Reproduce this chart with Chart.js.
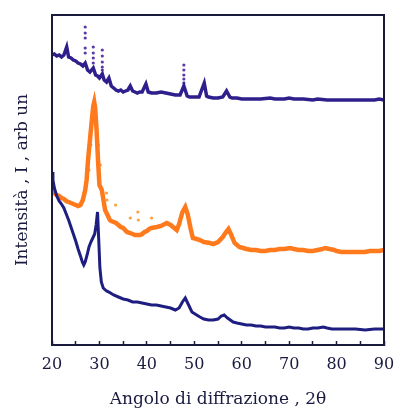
<!DOCTYPE html>
<html>
<head>
<meta charset="utf-8">
<script src="https://cdn.jsdelivr.net/npm/chart.js@4"></script>
<style>
html,body{margin:0;padding:0;background:#fff;}
canvas{display:block;}
</style>
</head>
<body>
<canvas id="c" width="398" height="410"></canvas>
<script>
// 2-theta angles and intensities (arbitrary units)
const topX = [20.0,20.5,21.0,21.5,22.0,22.5,23.1,23.5,24.0,24.5,25.0,25.5,26.0,26.5,27.0,27.5,28.0,28.7,29.2,29.6,30.0,30.6,31.0,31.5,32.0,32.5,33.0,33.5,34.0,34.5,35.0,35.5,36.0,36.5,37.0,37.5,38.0,38.5,39.0,39.8,40.3,41,42,43,44,45,46,47,47.8,48.5,49,50,51,52.1,52.6,53,54,55,56,56.8,57.5,58,59,60,62,64,66,67,69,70,71,73,75,76,78,80,82,84,86,88,89,90];
const topY = [290,291,289,290,288,290,298,288,287,285,284,282,281,279,282,275,273,277,270,269,267,271,265,263,267,259,257,255,254,255,253,254,255,259,254,253,252,253,253,261,253,252,252,253,252,251,250,250,259,249,248,248,248,262,249,248,247,247,248,254,248,247,247,246,246,246,247,246,246,247,246,246,245,246,245,245,245,245,245,245,246,245];
const topSpikeX = [27.0,27.0,27.0,27.0,27.0,28.7,28.7,28.7,28.7,30.6,30.6,30.6,30.6,30.6,47.8,47.8,47.8,47.8,47.8];
const topSpikeY = [318,312,307,297,292,298,292,287,282,295,289,283,278,275,280,275,270,266,262];

const midX = [20.0,20.3,20.7,21,21.5,22,22.5,23,23.5,24,24.5,25,25.5,26,26.5,27,27.3,27.6,28.0,28.4,28.7,28.9,29.1,29.4,29.7,30.0,30.5,31.2,31.5,32.2,32.5,33,33.5,34,34.5,35,35.8,36.5,37,37.5,38,38.6,39,39.5,40,40.5,41,42.1,43,44.2,45,46.3,46.8,47.5,48.1,48.6,49.2,49.7,50.5,51.2,52,53.3,54,55,56,56.7,57.2,57.7,58.5,59.5,60.3,61,62,63,64,65,66,67,68,69,70.2,71,72,73,74,75,76,77,77.6,78.5,79.5,80,81,82,83,84,85,86,87,88,89,90];
const midY = [157,153,151,150,149,147,146,144,143,142,141,140,139,140,145,155,165,185,205,225,239,243,237,215,185,160,155,135,132,125,124,123,122,120,118,117,113,112,111,110,110,110,111,113,114,116,117,118,119,122,120,115,121,133,138,131,117,107,106,105,103,102,101,103,108,113,116,111,102,98,97,96,95,95,94,94,95,95,96,96,97,96,95,95,94,94,95,96,97,96,95,94,93,93,93,93,93,93,94,94,94,95];
const midDotX = [27.8,28.2,29.8,30.2,31.5,31.6,33.4,36.5,38.1,38.2,41.0];
const midDotY = [175,200,200,180,152,145,140,127,133,125,127];

const botX = [20.0,20.2,20.5,21,21.5,22,22.5,23,23.5,24,24.5,25,25.5,26,26.4,26.7,27.0,27.4,27.8,28.2,28.6,29.0,29.3,29.6,29.9,30.1,30.4,30.8,31.5,32,33,34,35,36,37,38,39,40,41,42,43,44,45,46,46.8,47.5,48.1,48.7,49.5,50.5,51.2,52,53,54,55,55.7,56.3,57,58.2,59,60,61,62,63,64,65,66,67,68,69,70,71,72,73,74,75,76,77.2,78,79,80,82,84,86,88,90];
const botY = [173,165,157,149,144,141,137,131,125,118,111,104,96,89,83,80,83,90,98,103,107,111,120,133,100,77,63,57,54,53,50,48,46,45,43,43,42,41,40,40,39,38,37,35,37,43,47,41,33,30,28,26,25,25,26,29,30,27,23,22,21,20,20,19,19,18,18,18,17,17,18,17,17,16,16,17,17,18,17,16,16,16,16,15,16,16];

const xTicksMajor = [20,30,40,50,60,70,80,90];

const toPts = (xs, ys) => xs.map((x, i) => ({x: x, y: ys[i]}));

const TOP_C = '#2e1f8c', MID_C = '#ff7a1c', BOT_C = '#1e1e80', AX_C = '#1a1a3c';
const FONT = 'DejaVu Serif';

const framePlugin = {
  id: 'frame',
  afterDatasetsDraw(chart) {
    const a = chart.chartArea, ctx = chart.ctx;
    ctx.save();
    ctx.strokeStyle = AX_C;
    ctx.lineWidth = 2;
    ctx.strokeRect(a.left, a.top, a.right - a.left, a.bottom - a.top);
    ctx.restore();
  }
};

new Chart(document.getElementById('c'), {
  type: 'line',
  data: {
    datasets: [
      {data: toPts(botX, botY), borderColor: BOT_C, borderWidth: 3, pointRadius: 0, tension: 0},
      {data: toPts(midX, midY), borderColor: MID_C, borderWidth: 4.5, pointRadius: 0, tension: 0},
      {data: toPts(midDotX, midDotY), showLine: false, pointRadius: 1.6, pointBackgroundColor: '#ffa040', pointBorderWidth: 0},
      {data: toPts(topX, topY), borderColor: TOP_C, borderWidth: 3.5, pointRadius: 0, tension: 0},
      {data: toPts(topSpikeX, topSpikeY), showLine: false, pointRadius: 1.6, pointBackgroundColor: '#5a3aa8', pointBorderWidth: 0}
    ]
  },
  options: {
    responsive: false,
    animation: false,
    events: [],
    layout: {padding: {left: 0, top: 15, right: 14, bottom: 0}},
    plugins: {legend: {display: false}, tooltip: {enabled: false}},
    scales: {
      x: {
        type: 'linear', min: 20, max: 90,
        afterFit: s => { s.height = 65; s.paddingLeft = 0; s.paddingRight = 0; },
        ticks: {
          stepSize: 5, autoSkip: false, maxRotation: 0, padding: 14,
          color: '#1a1a40',
          font: {family: FONT, size: 16},
          callback: v => xTicksMajor.includes(v) ? String(v) : ''
        },
        grid: {drawOnChartArea: false, drawTicks: true, tickLength: -4, color: AX_C, tickWidth: 1.5},
        border: {display: true, color: AX_C, width: 2},
        title: {display: true, text: 'Angolo di diffrazione , 2θ', color: '#1a1a40',
          font: {family: FONT, size: 17}, padding: {top: 0, bottom: 0}}
      },
      y: {
        type: 'linear', min: 0, max: 330,
        afterFit: s => { s.width = 52; s.paddingTop = 0; s.paddingBottom = 0; },
        ticks: {display: false},
        grid: {display: false},
        border: {display: true, color: AX_C, width: 2},
        title: {display: true, text: 'Intensità , I , arb un', color: '#1a1a40',
          font: {family: FONT, size: 17}, padding: {top: 12, bottom: 0}}
      }
    }
  },
  plugins: [framePlugin]
});
</script>
</body>
</html>
